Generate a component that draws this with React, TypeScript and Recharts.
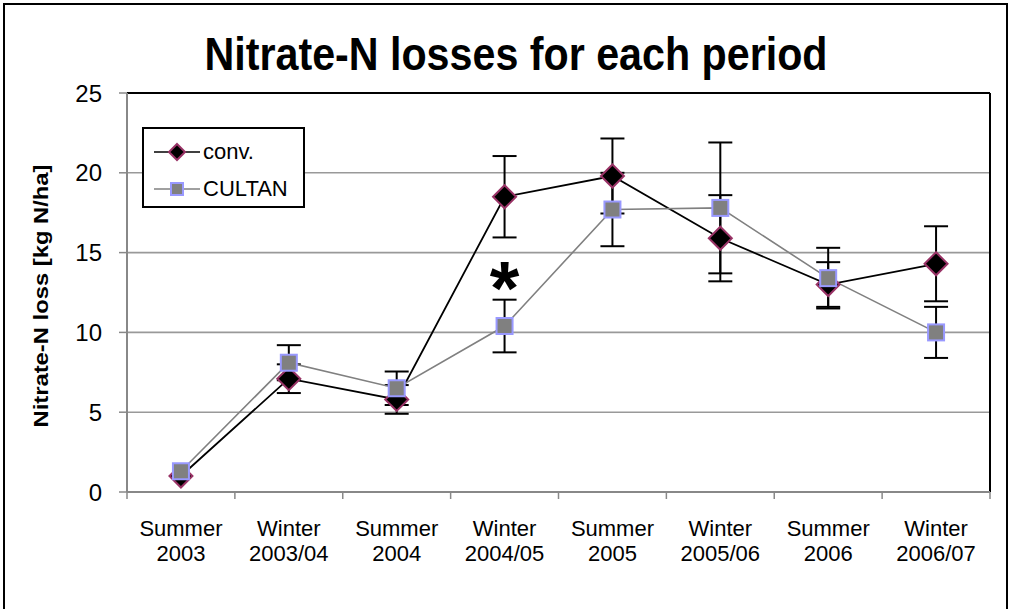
import React from "react";
import {
  LineChart,
  Line,
  XAxis,
  YAxis,
  CartesianGrid,
  ErrorBar,
  Legend,
  ReferenceLine,
  ReferenceDot,
} from "recharts";

// ---------- data ----------
const periods = [
  "Summer\n2003",
  "Winter\n2003/04",
  "Summer\n2004",
  "Winter\n2004/05",
  "Summer\n2005",
  "Winter\n2005/06",
  "Summer\n2006",
  "Winter\n2006/07",
];
const convValues = [1.0, 7.1, 5.8, 18.5, 19.8, 15.9, 13.0, 14.3];
const convErrors = [null, 0.9, 0.9, 2.55, 2.35, 2.7, 1.4, 2.35];
const cultanValues = [1.3, 8.1, 6.5, 10.4, 17.7, 17.8, 13.4, 10.0];
const cultanErrors = [null, 1.1, 1.05, 1.65, 2.3, 4.1, 1.9, 1.6];
const yTicks = [0, 5, 10, 15, 20, 25];
const seriesNames = ["conv.", "CULTAN"];
const titleText = "Nitrate-N losses for each period";
const yAxisTitle = "Nitrate-N loss [kg N/ha]";
const starIndex = 3;
const starValue = 13.7;

// ---------- layout ----------
const W = 1011;
const H = 609;
const MARGIN = { top: 93, right: 21, bottom: 0, left: 0 };
const Y_AXIS_W = 127;
const X_AXIS_H = 117;
const PLOT_W = W - MARGIN.left - MARGIN.right - Y_AXIS_W;
const BAND = PLOT_W / periods.length;
const FONT = "'Liberation Sans', Arial, Helvetica, sans-serif";

const tableData = periods.map((p, i) => ({
  pos: i + 0.5,
  conv: convValues[i],
  convErr: convErrors[i],
  cultan: cultanValues[i],
  cultanErr: cultanErrors[i],
}));
const boundaryTicks = periods.map((_, i) => i).concat([periods.length]);

const CONV_STROKE = "#000000";
const CONV_MARK_FILL = "#000000";
const CONV_MARK_EDGE = "#993366";
const CULTAN_STROKE = "#808080";
const CULTAN_MARK_FILL = "#808080";
const CULTAN_MARK_EDGE = "#9999FF";

const Diamond = ({ cx, cy, r = 11.5 }: any) => (
  <path
    d={`M${cx},${cy - r}L${cx + r},${cy}L${cx},${cy + r}L${cx - r},${cy}Z`}
    fill={CONV_MARK_FILL}
    stroke={CONV_MARK_EDGE}
    strokeWidth={2}
  />
);
const Square = ({ cx, cy, s = 16 }: any) => (
  <rect
    x={cx - s / 2}
    y={cy - s / 2}
    width={s}
    height={s}
    fill={CULTAN_MARK_FILL}
    stroke={CULTAN_MARK_EDGE}
    strokeWidth={2}
  />
);

const renderDiamondDot = (props: any) => {
  const { cx, cy, index } = props;
  if (cx == null || cy == null) return <g key={`d${index}`} />;
  return (
    <g key={`d${index}`}>
      <Diamond cx={cx} cy={cy} />
    </g>
  );
};
const renderSquareDot = (props: any) => {
  const { cx, cy, index } = props;
  if (cx == null || cy == null) return <g key={`s${index}`} />;
  return (
    <g key={`s${index}`}>
      <Square cx={cx} cy={cy} />
    </g>
  );
};

const XTick = (props: any) => {
  const { x, y, payload } = props;
  const i = payload.value;
  if (i >= periods.length) return <g />;
  const [l1, l2] = periods[i].split("\n");
  const cx = x + BAND / 2;
  return (
    <g>
      <text x={cx} y={y + 37} textAnchor="middle" fontSize={22} fontFamily={FONT} fill="#000">
        {l1}
      </text>
      <text x={cx} y={y + 62} textAnchor="middle" fontSize={22} fontFamily={FONT} fill="#000">
        {l2}
      </text>
    </g>
  );
};

const LegendBox = () => {
  const rows = [
    { name: seriesNames[0], stroke: CONV_STROKE, mark: "diamond" },
    { name: seriesNames[1], stroke: CULTAN_STROKE, mark: "square" },
  ];
  return (
    <div
      style={{
        width: 163,
        height: 81,
        boxSizing: "border-box",
        border: "2px solid #000",
        background: "#fff",
        position: "relative",
        fontFamily: FONT,
        fontSize: 22,
        color: "#000",
      }}
    >
      {rows.map((r, k) => {
        const cyRow = k === 0 ? 23 : 60;
        return (
          <div key={r.name}>
            <svg
              width={48}
              height={26}
              style={{ position: "absolute", left: 10, top: cyRow - 13, overflow: "visible" }}
            >
              <line x1={0} y1={13} x2={46} y2={13} stroke={r.stroke} strokeWidth={1.5} />
              {r.mark === "diamond" ? (
                <Diamond cx={23} cy={13} r={8} />
              ) : (
                <Square cx={23} cy={13} s={12} />
              )}
            </svg>
            <div
              style={{
                position: "absolute",
                left: 59,
                top: cyRow - 13,
                lineHeight: "26px",
                whiteSpace: "nowrap",
              }}
            >
              {r.name}
            </div>
          </div>
        );
      })}
    </div>
  );
};

const STAR_SIZE = 76;
const StarLabel = (props: any) => {
  const { viewBox } = props;
  const cx = viewBox ? viewBox.x + (viewBox.width || 0) / 2 : 0;
  const cy = viewBox ? viewBox.y + (viewBox.height || 0) / 2 : 0;
  return (
    <text
      x={cx}
      y={cy + 0.53 * STAR_SIZE}
      textAnchor="middle"
      fontSize={STAR_SIZE}
      fontWeight="bold"
      fontFamily={FONT}
      fill="#000"
    >
      *
    </text>
  );
};

export default function App() {
  return (
    <div style={{ position: "absolute", left: 0, top: 0, width: W, height: H, background: "#fff", overflow: "hidden" }}>
      <div
        style={{
          position: "absolute",
          left: 3,
          top: 3,
          width: 1005,
          height: 640,
          boxSizing: "border-box",
          border: "2px solid #000",
        }}
      />
      <div style={{ position: "absolute", left: 0, top: 0 }}>
        <LineChart width={W} height={H} data={tableData} margin={MARGIN}>
          <CartesianGrid horizontal vertical={false} stroke="#999" strokeWidth={1.6} />
          <XAxis
            dataKey="pos"
            type="number"
            domain={[0, periods.length]}
            ticks={boundaryTicks}
            interval={0}
            height={X_AXIS_H}
            tickSize={7}
            tickMargin={0}
            axisLine={{ stroke: "#888", strokeWidth: 2 }}
            tickLine={{ stroke: "#888", strokeWidth: 1.5 }}
            tick={<XTick />}
          />
          <YAxis
            type="number"
            domain={[0, 25]}
            ticks={yTicks}
            interval={0}
            width={Y_AXIS_W}
            tickSize={8}
            tickMargin={17}
            axisLine={{ stroke: "#888", strokeWidth: 2 }}
            tickLine={{ stroke: "#888", strokeWidth: 1.5 }}
            tick={{ fill: "#000", fontSize: 24, fontFamily: FONT }}
          />
          <ReferenceLine y={25} stroke="#000" strokeWidth={2} />
          <ReferenceLine x={periods.length} stroke="#000" strokeWidth={2} />
          <Legend
            layout="vertical"
            align="center"
            verticalAlign="middle"
            wrapperStyle={{ left: 142, top: 127, width: 163, height: 81 }}
            content={() => <LegendBox />}
          />
          <Line
            name={seriesNames[0]}
            dataKey="conv"
            stroke={CONV_STROKE}
            strokeWidth={1.8}
            dot={renderDiamondDot}
            activeDot={false}
            isAnimationActive={false}
          >
            <ErrorBar dataKey="convErr" direction="y" width={12} stroke="#000" strokeWidth={2} />
          </Line>
          <Line
            name={seriesNames[1]}
            dataKey="cultan"
            stroke={CULTAN_STROKE}
            strokeWidth={1.6}
            dot={renderSquareDot}
            activeDot={false}
            isAnimationActive={false}
          >
            <ErrorBar dataKey="cultanErr" direction="y" width={12} stroke="#000" strokeWidth={2} />
          </Line>
          <ReferenceDot
            x={tableData[starIndex].pos}
            y={starValue}
            r={0}
            fill="none"
            stroke="none"
            label={<StarLabel />}
          />
        </LineChart>
      </div>
      <svg
        width={W}
        height={H}
        style={{ position: "absolute", left: 0, top: 0, pointerEvents: "none" }}
      >
        <text
          x={516}
          y={70}
          textAnchor="middle"
          fontSize={47}
          fontWeight="bold"
          fontFamily={FONT}
          fill="#000"
          textLength={623}
          lengthAdjust="spacingAndGlyphs"
        >
          {titleText}
        </text>
        <text
          transform="translate(48,296) rotate(-90)"
          textAnchor="middle"
          fontSize={21}
          fontWeight="bold"
          fontFamily={FONT}
          fill="#000"
          textLength={263}
          lengthAdjust="spacingAndGlyphs"
        >
          {yAxisTitle}
        </text>
      </svg>
    </div>
  );
}
